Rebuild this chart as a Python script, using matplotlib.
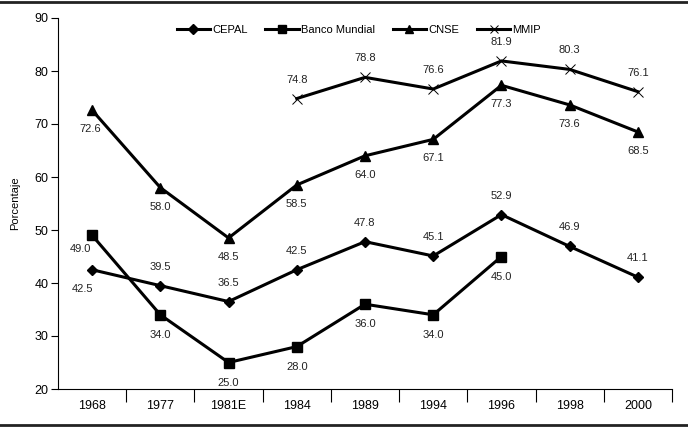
import numpy as np
import matplotlib
matplotlib.use("Agg")
import matplotlib.pyplot as plt
from matplotlib.lines import Line2D

plt.rcParams['font.family'] = ['Liberation Sans', 'DejaVu Sans']

categories = ["1968", "1977", "1981E", "1984", "1989", "1994", "1996", "1998", "2000"]
cepal = [42.5, 39.5, 36.5, 42.5, 47.8, 45.1, 52.9, 46.9, 41.1]
banco = [49.0, 34.0, 25.0, 28.0, 36.0, 34.0, 45.0, np.nan, np.nan]
cnse = [72.6, 58.0, 48.5, 58.5, 64.0, 67.1, 77.3, 73.6, 68.5]
mmip = [np.nan, np.nan, np.nan, 74.8, 78.8, 76.6, 81.9, 80.3, 76.1]
y_ticks = [20, 30, 40, 50, 60, 70, 80, 90]

W, H = 688, 429
fig = plt.figure(figsize=(W/100, H/100), dpi=100)
ax = fig.add_axes([58/W, 1-389/H, (672-58)/W, (389-18)/H])

x = np.arange(len(categories))
lw = 2.2
ax.plot(x, cepal, color='black', lw=lw, marker='D', ms=5.5, label='CEPAL')
ax.plot(x, banco, color='black', lw=lw, marker='s', ms=7.5, label='Banco Mundial')
ax.plot(x, cnse, color='black', lw=lw, marker='^', ms=7, label='CNSE')
ax.plot(x, mmip, color='black', lw=lw, marker='x', ms=6.5, mew=0.7, label='MMIP')

off = 19
def lab(vals, above, dx=None, dys=None):
    for i, v in enumerate(vals):
        if np.isnan(v):
            continue
        d = dys[i] if dys else off
        dy = d if above[i] else -d
        ddx = dx[i] if dx else 0
        ax.annotate(f"{v:.1f}", (x[i], v), xytext=(ddx, dy), textcoords='offset pixels',
                    ha='center', va='center', fontsize=8, color='#222222')

lab(cepal, [False] + [True]*8, [-10] + [0]*8)
lab(banco, [False]*9, [-12] + [0]*8, [14] + [20]*8)
lab(cnse, [False]*9, [-2] + [0]*8)
lab(mmip, [True]*9)

ax.set_xlim(-0.5, len(categories)-0.5)
ax.set_ylim(20, 90)
ax.set_yticks(y_ticks)
ax.tick_params(axis='y', labelsize=9, length=5, width=0.8, direction='out', pad=2)
ax.set_xticks(x)
ax.set_xticklabels(categories)
ax.tick_params(axis='x', which='major', length=0, labelsize=9, pad=8)
ax.set_xticks(np.arange(0.5, len(categories)), minor=True)
ax.tick_params(axis='x', which='minor', length=9, width=0.8, direction='out')
for s in ['top', 'right']:
    ax.spines[s].set_visible(False)
for s in ['left', 'bottom']:
    ax.spines[s].set_linewidth(0.8)
ax.set_ylabel('Porcentaje', fontsize=8, labelpad=10)

leg = ax.legend(loc='upper center', bbox_to_anchor=(0.49, 1.0), ncol=4, frameon=False,
                fontsize=8, handlelength=3, handletextpad=0.2, columnspacing=1.6,
                borderaxespad=0.2, markerscale=0.85)

fig.add_artist(Line2D([0, 1], [1-2/H, 1-2/H], color='#222222', lw=2, transform=fig.transFigure))
fig.add_artist(Line2D([0, 1], [1-425/H, 1-425/H], color='#222222', lw=2, transform=fig.transFigure))

fig.savefig('out.png', dpi=100)
